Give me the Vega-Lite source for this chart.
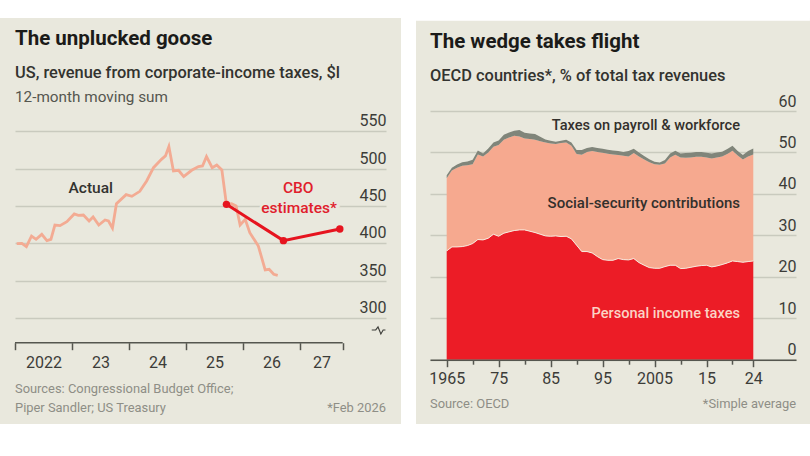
{
  "$schema": "https://vega.github.io/schema/vega-lite/v6.json",
  "background": "#ffffff",
  "padding": {"left": 0, "top": 17, "right": 0, "bottom": 33},
  "spacing": 15,
  "config": {
    "font": "Roboto",
    "view": {"stroke": null},
    "title": {
      "font": "Roboto", "fontSize": 20.5, "fontWeight": 700, "color": "#1b1b19",
      "subtitleFont": "Roboto", "subtitleFontSize": 16.4, "subtitleFontWeight": 500, "subtitleColor": "#33332f",
      "anchor": "start", "frame": "group"
    },
    "axis": {"titleFontSize": 0}
  },
  "hconcat": [
    {
      "width": 401,
      "height": 406,
      "view": {"fill": "#e9e8dd"},
      "title": {"text": "The unplucked goose", "subtitle": "US, revenue from corporate-income taxes, $l", "dx": 15, "offset": -63, "subtitlePadding": 15},
      "encoding": {
        "x": {
          "field": "year", "type": "quantitative",
          "scale": {"domain": [2022, 2028.51], "range": [15, 386], "nice": false, "zero": false},
          "axis": {
            "title": null, "orient": "bottom", "offset": -81.3, "grid": false, "domain": false, "zindex": 1,
            "values": [2022, 2023, 2024, 2025, 2026, 2027, 2027.75],
            "format": "d",
            "labelExpr": "datum.value == 2022 ? '2022' : datum.value > 2027 ? '' : substring(datum.label, 2)",
            "labelOffset": {"condition": {"test": "datum.value == 2027", "value": 21.5}, "value": 28.5},
            "labelFlush": false, "labelBound": false, "labelOverlap": false,
            "labelFont": "Roboto", "labelFontSize": 16, "labelColor": "#3c3c38", "labelPadding": 5,
            "tickColor": "#55564f", "tickWidth": 1.5, "tickSize": 7
          }
        },
        "y": {
          "field": "value", "type": "quantitative",
          "scale": {"domain": [300, 550], "range": [300, 113.3], "nice": false, "zero": false},
          "axis": {
            "title": null, "orient": "right", "domain": false, "ticks": false, "grid": true,
            "gridColor": "#c9cabe", "gridWidth": 1.5,
            "values": [300, 350, 400, 450, 500, 550],
            "labelAlign": "right", "labelBaseline": "alphabetic", "labelPadding": -15, "labelOffset": -5.5,
            "labelFont": "Roboto", "labelFontSize": 16, "labelColor": "#3c3c38", "labelBound": false, "labelFlush": false
          }
        }
      },
      "layer": [
        {
          "data": {"values": [{"year": 2022, "year2": 2027.75, "value": 266.9}]},
          "mark": {"type": "rule", "color": "#55564f", "strokeWidth": 1.5},
          "encoding": {"x2": {"field": "year2"}}
        },
        {
          "data": {"values": [
            {"year": 2028.26, "value": 284}, {"year": 2028.33, "value": 284}, {"year": 2028.37, "value": 288},
            {"year": 2028.42, "value": 278.6}, {"year": 2028.46, "value": 284}, {"year": 2028.5, "value": 284}
          ]},
          "mark": {"type": "line", "color": "#3c3c38", "strokeWidth": 1.1}
        },
        {
          "data": {"values": [
            {"year": 2022.03, "value": 399.5}, {"year": 2022.12, "value": 400}, {"year": 2022.2, "value": 395.5},
            {"year": 2022.29, "value": 409.8}, {"year": 2022.37, "value": 405.4}, {"year": 2022.47, "value": 412},
            {"year": 2022.56, "value": 403.6}, {"year": 2022.63, "value": 405.4}, {"year": 2022.7, "value": 424.5},
            {"year": 2022.79, "value": 423.7}, {"year": 2022.91, "value": 429}, {"year": 2023.04, "value": 439.3},
            {"year": 2023.11, "value": 437.5}, {"year": 2023.2, "value": 437.9}, {"year": 2023.3, "value": 429.9},
            {"year": 2023.37, "value": 435.3}, {"year": 2023.47, "value": 424.5}, {"year": 2023.58, "value": 431.2},
            {"year": 2023.64, "value": 429.9}, {"year": 2023.71, "value": 420.5}, {"year": 2023.78, "value": 453.1},
            {"year": 2023.95, "value": 465.2}, {"year": 2024.05, "value": 462.9}, {"year": 2024.19, "value": 469.6},
            {"year": 2024.31, "value": 483.5}, {"year": 2024.43, "value": 501.3}, {"year": 2024.57, "value": 512.5},
            {"year": 2024.64, "value": 517}, {"year": 2024.7, "value": 529.5}, {"year": 2024.78, "value": 496.9},
            {"year": 2024.87, "value": 497.8}, {"year": 2024.96, "value": 489.3}, {"year": 2025.1, "value": 497.8},
            {"year": 2025.22, "value": 502.7}, {"year": 2025.29, "value": 503.6}, {"year": 2025.36, "value": 516.1},
            {"year": 2025.46, "value": 501.3}, {"year": 2025.54, "value": 504.9}, {"year": 2025.63, "value": 498.2},
            {"year": 2025.71, "value": 452.2}, {"year": 2025.8, "value": 453.1}, {"year": 2025.88, "value": 450},
            {"year": 2025.95, "value": 424.5}, {"year": 2026.04, "value": 432.1}, {"year": 2026.12, "value": 414.3},
            {"year": 2026.27, "value": 396.4}, {"year": 2026.39, "value": 364.3}, {"year": 2026.46, "value": 365.2},
            {"year": 2026.54, "value": 358.5}, {"year": 2026.61, "value": 357.1}
          ]},
          "mark": {"type": "line", "color": "#f3ab93", "strokeWidth": 2.8}
        },
        {
          "data": {"values": [
            {"year": 2025.71, "value": 452.2}, {"year": 2026.71, "value": 403.6}, {"year": 2027.7, "value": 419.2}
          ]},
          "mark": {"type": "line", "color": "#e6141f", "strokeWidth": 3, "point": {"color": "#e6141f", "size": 55, "filled": true, "opacity": 1}}
        },
        {
          "data": {"values": [
            {"year": 2026.97, "value": 474.5, "label": "CBO"},
            {"year": 2026.985, "value": 447.7, "label": "estimates*"}
          ]},
          "layer": [
            {"mark": {"type": "text", "fontSize": 15.5, "font": "Roboto", "fontWeight": 500, "align": "center", "baseline": "middle", "stroke": "#e9e8dd", "strokeWidth": 5, "fill": "#e9e8dd"}, "encoding": {"text": {"field": "label"}}},
            {"mark": {"type": "text", "fontSize": 15.5, "font": "Roboto", "fontWeight": 500, "align": "center", "baseline": "middle", "color": "#e0202c"}, "encoding": {"text": {"field": "label"}}}
          ]
        },
        {
          "data": {"values": [{"year": 2023.33, "value": 474.1, "label": "Actual"}]},
          "mark": {"type": "text", "fontSize": 15.5, "font": "Roboto", "fontWeight": 500, "align": "center", "baseline": "middle", "color": "#33332f"},
          "encoding": {"text": {"field": "label"}}
        },
        {
          "data": {"values": [{"year": 2022, "value": 596, "label": "12-month moving sum"}]},
          "mark": {"type": "text", "fontSize": 15.3, "font": "Roboto", "align": "left", "baseline": "middle", "color": "#55564f"},
          "encoding": {"text": {"field": "label"}}
        },
        {
          "data": {"values": [
            {"year": 2022, "value": 204.9, "label": "Sources: Congressional Budget Office;"},
            {"year": 2022, "value": 179.9, "label": "Piper Sandler; US Treasury"}
          ]},
          "mark": {"type": "text", "fontSize": 12.9, "font": "Roboto", "align": "left", "baseline": "middle", "color": "#8e8e86"},
          "encoding": {"text": {"field": "label"}}
        },
        {
          "data": {"values": [{"year": 2028.51, "value": 179.9, "label": "*Feb 2026"}]},
          "mark": {"type": "text", "fontSize": 12.9, "font": "Roboto", "align": "right", "baseline": "middle", "color": "#8e8e86"},
          "encoding": {"text": {"field": "label"}}
        }
      ]
    },
    {
      "width": 394,
      "height": 406,
      "view": {"fill": "#e9e8dd"},
      "title": {"text": "The wedge takes flight", "subtitle": "OECD countries*, % of total tax revenues", "dx": 14, "offset": -67, "subtitlePadding": 15},
      "encoding": {
        "x": {
          "field": "year", "type": "quantitative",
          "scale": {"domain": [1961.79, 2032.22], "range": [14, 380], "nice": false, "zero": false},
          "axis": {
            "title": null, "orient": "bottom", "offset": -64.3, "grid": false, "zindex": 1,
            "domainColor": "#55564f", "domainWidth": 1.5,
            "values": [1965, 1970, 1975, 1980, 1985, 1990, 1995, 2000, 2005, 2010, 2015, 2020, 2024],
            "format": "d",
            "labelExpr": "indexof([1965, 2005], datum.value) >= 0 ? datum.label : indexof([1975, 1985, 1995, 2015, 2024], datum.value) >= 0 ? substring(datum.label, 2) : ''",
            "labelFlush": false, "labelBound": false, "labelOverlap": false,
            "labelFont": "Roboto", "labelFontSize": 16, "labelColor": "#3c3c38", "labelPadding": 4,
            "tickColor": "#55564f", "tickWidth": 1.5,
            "tickSize": {"condition": {"test": "indexof([1970, 1980, 1990, 2000, 2010, 2020], datum.value) >= 0", "value": 4.5}, "value": 7}
          }
        },
        "y": {
          "field": "value", "type": "quantitative",
          "scale": {"domain": [0, 60], "range": [341.7, 93], "nice": false, "zero": false},
          "axis": {
            "title": null, "orient": "right", "domain": false, "ticks": false, "grid": true,
            "gridColor": "#c9cabe", "gridWidth": 1.5,
            "values": [0, 10, 20, 30, 40, 50, 60],
            "labelAlign": "right", "labelBaseline": "alphabetic", "labelPadding": -14, "labelOffset": -5,
            "labelFont": "Roboto", "labelFontSize": 16, "labelColor": "#3c3c38", "labelBound": false, "labelFlush": false
          }
        }
      },
      "layer": [
        {
          "data": {"values": [{"year": 1959.1, "year2": 2034.9, "value": 81.8, "value2": 82.6}]},
          "mark": {"type": "rect", "color": "#ffffff"},
          "encoding": {"x2": {"field": "year2"}, "y2": {"field": "value2"}}
        },
        {
          "data": {"name": "wedge"},
          "transform": [{"fold": ["personal", "social", "workforce"], "as": ["series", "value"]}],
          "mark": {"type": "area", "opacity": 1},
          "encoding": {
            "color": {
              "field": "series", "type": "nominal", "legend": null,
              "scale": {"domain": ["personal", "social", "workforce"], "range": ["#ec1c26", "#f6a98f", "#80857a"]}
            },
            "order": {"field": "series", "sort": "ascending"}
          }
        },
        {
          "data": {"name": "wedge"},
          "transform": [{"fold": ["personal"], "as": ["series", "value"]}],
          "mark": {"type": "line", "color": "#f8e9dd", "strokeWidth": 1}
        },
        {
          "data": {"values": [
            {"year": 2021.44, "value": 56.45, "label": "Taxes on payroll & workforce"}
          ]},
          "mark": {"type": "text", "fontSize": 14.6, "font": "Roboto", "fontWeight": 500, "align": "right", "baseline": "middle", "color": "#33302c"},
          "encoding": {"text": {"field": "label"}}
        },
        {
          "data": {"values": [
            {"year": 2021.44, "value": 37.9, "label": "Social-security contributions"}
          ]},
          "mark": {"type": "text", "fontSize": 15, "font": "Roboto", "fontWeight": 500, "align": "right", "baseline": "middle", "color": "#33302c"},
          "encoding": {"text": {"field": "label"}}
        },
        {
          "data": {"values": [{"year": 2021.44, "value": 11.1, "label": "Personal income taxes"}]},
          "mark": {"type": "text", "fontSize": 14.6, "font": "Roboto", "fontWeight": 500, "align": "right", "baseline": "middle", "color": "#fbd3c4"},
          "encoding": {"text": {"field": "label"}}
        },
        {
          "data": {"values": [{"year": 1961.79, "value": -10.7, "label": "Source: OECD"}]},
          "mark": {"type": "text", "fontSize": 12.9, "font": "Roboto", "align": "left", "baseline": "middle", "color": "#8e8e86"},
          "encoding": {"text": {"field": "label"}}
        },
        {
          "data": {"values": [{"year": 2032.22, "value": -10.7, "label": "*Simple average"}]},
          "mark": {"type": "text", "fontSize": 12.9, "font": "Roboto", "align": "right", "baseline": "middle", "color": "#8e8e86"},
          "encoding": {"text": {"field": "label"}}
        }
      ]
    }
  ],
  "datasets": {
    "wedge": [
      {"year": 1965, "personal": 26.25, "social": 17.55, "workforce": 0.72},
      {"year": 1966, "personal": 27.21, "social": 18.44, "workforce": 0.64},
      {"year": 1967, "personal": 27.21, "social": 19.08, "workforce": 0.81},
      {"year": 1968, "personal": 27.29, "social": 19.48, "workforce": 0.89},
      {"year": 1969, "personal": 27.54, "social": 19.4, "workforce": 0.89},
      {"year": 1970, "personal": 28.02, "social": 19.16, "workforce": 1.05},
      {"year": 1971, "personal": 28.99, "social": 20.53, "workforce": 0.97},
      {"year": 1972, "personal": 28.9, "social": 20.13, "workforce": 0.72},
      {"year": 1973, "personal": 29.31, "social": 20.69, "workforce": 0.97},
      {"year": 1974, "personal": 30.27, "social": 21.1, "workforce": 1.05},
      {"year": 1975, "personal": 29.79, "social": 21.98, "workforce": 1.13},
      {"year": 1976, "personal": 30.52, "social": 22.54, "workforce": 1.21},
      {"year": 1977, "personal": 30.84, "social": 22.79, "workforce": 1.21},
      {"year": 1978, "personal": 31.16, "social": 22.87, "workforce": 1.21},
      {"year": 1979, "personal": 31.32, "social": 22.54, "workforce": 1.53},
      {"year": 1980, "personal": 31.32, "social": 22.06, "workforce": 1.37},
      {"year": 1981, "personal": 31.0, "social": 22.22, "workforce": 1.37},
      {"year": 1982, "personal": 30.68, "social": 22.38, "workforce": 1.37},
      {"year": 1983, "personal": 30.27, "social": 22.46, "workforce": 1.05},
      {"year": 1984, "personal": 29.87, "social": 22.54, "workforce": 0.72},
      {"year": 1985, "personal": 29.79, "social": 22.38, "workforce": 0.64},
      {"year": 1986, "personal": 29.87, "social": 22.14, "workforce": 0.56},
      {"year": 1987, "personal": 29.71, "social": 22.54, "workforce": 0.56},
      {"year": 1988, "personal": 29.79, "social": 22.62, "workforce": 0.64},
      {"year": 1989, "personal": 29.15, "social": 22.46, "workforce": 0.81},
      {"year": 1990, "personal": 27.62, "social": 21.98, "workforce": 0.97},
      {"year": 1991, "personal": 26.09, "social": 23.35, "workforce": 1.13},
      {"year": 1992, "personal": 26.09, "social": 23.99, "workforce": 0.97},
      {"year": 1993, "personal": 25.76, "social": 24.56, "workforce": 0.97},
      {"year": 1994, "personal": 24.88, "social": 25.2, "workforce": 0.97},
      {"year": 1995, "personal": 24.15, "social": 25.76, "workforce": 0.97},
      {"year": 1996, "personal": 23.99, "social": 25.68, "workforce": 0.97},
      {"year": 1997, "personal": 23.99, "social": 25.52, "workforce": 0.97},
      {"year": 1998, "personal": 24.4, "social": 24.96, "workforce": 0.97},
      {"year": 1999, "personal": 24.15, "social": 25.04, "workforce": 0.89},
      {"year": 2000, "personal": 24.07, "social": 24.96, "workforce": 1.29},
      {"year": 2001, "personal": 24.4, "social": 25.44, "workforce": 1.05},
      {"year": 2002, "personal": 23.43, "social": 25.6, "workforce": 0.97},
      {"year": 2003, "personal": 22.79, "social": 25.52, "workforce": 0.81},
      {"year": 2004, "personal": 22.22, "social": 25.44, "workforce": 0.72},
      {"year": 2005, "personal": 22.06, "social": 25.12, "workforce": 0.56},
      {"year": 2006, "personal": 22.06, "social": 24.96, "workforce": 0.56},
      {"year": 2007, "personal": 22.46, "social": 24.88, "workforce": 0.81},
      {"year": 2008, "personal": 22.79, "social": 26.01, "workforce": 0.97},
      {"year": 2009, "personal": 22.79, "social": 26.65, "workforce": 0.97},
      {"year": 2010, "personal": 21.98, "social": 26.81, "workforce": 0.97},
      {"year": 2011, "personal": 22.06, "social": 26.65, "workforce": 1.13},
      {"year": 2012, "personal": 22.3, "social": 26.49, "workforce": 1.13},
      {"year": 2013, "personal": 22.54, "social": 26.41, "workforce": 1.13},
      {"year": 2014, "personal": 22.71, "social": 26.25, "workforce": 1.13},
      {"year": 2015, "personal": 22.79, "social": 26.01, "workforce": 1.13},
      {"year": 2016, "personal": 22.38, "social": 26.17, "workforce": 1.21},
      {"year": 2017, "personal": 22.62, "social": 26.17, "workforce": 1.21},
      {"year": 2018, "personal": 22.95, "social": 26.09, "workforce": 1.13},
      {"year": 2019, "personal": 23.35, "social": 26.25, "workforce": 1.21},
      {"year": 2020, "personal": 23.83, "social": 26.57, "workforce": 1.21},
      {"year": 2021, "personal": 23.67, "social": 25.6, "workforce": 1.05},
      {"year": 2022, "personal": 23.51, "social": 24.8, "workforce": 1.05},
      {"year": 2023, "personal": 23.67, "social": 25.36, "workforce": 1.29},
      {"year": 2024, "personal": 23.83, "social": 25.68, "workforce": 1.45}
    ]
  }
}
